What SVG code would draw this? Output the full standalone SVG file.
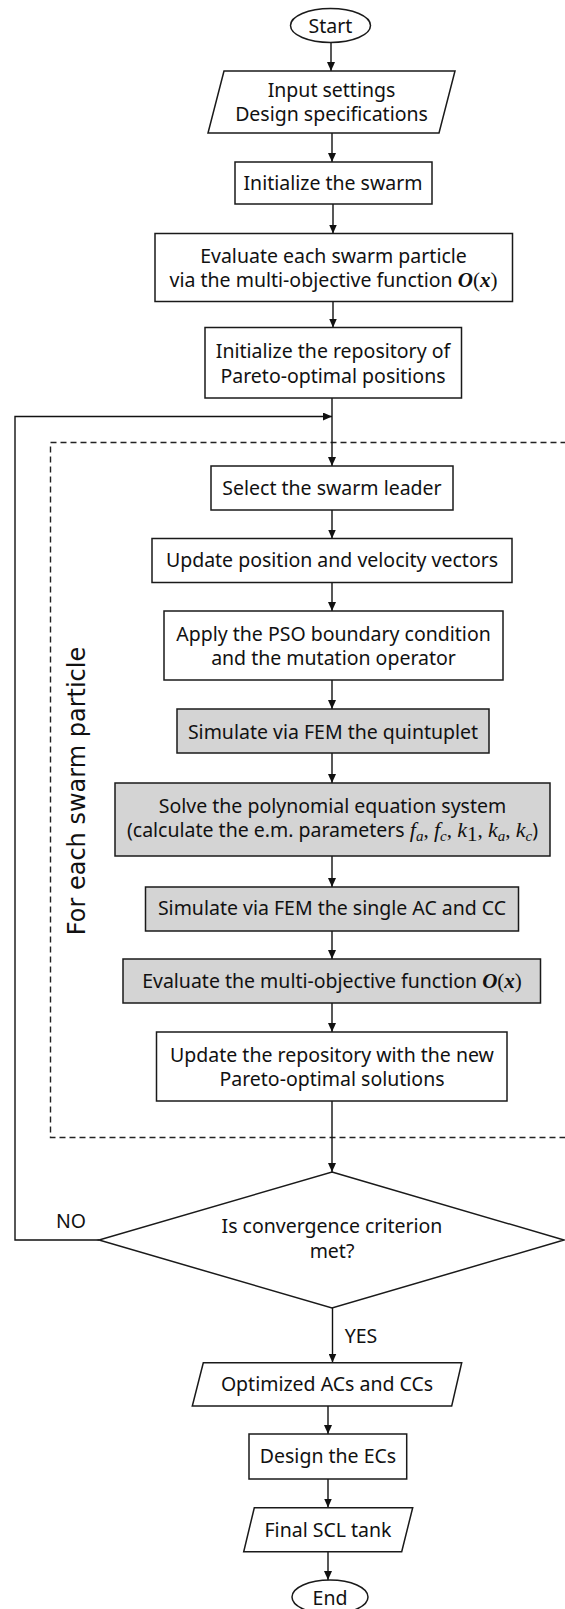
<svg xmlns="http://www.w3.org/2000/svg" width="565" height="1609" viewBox="0 0 565 1609">
<defs>
<style>
.box{fill:#fff;stroke:#1a1a1a;stroke-width:1.5}
.gray{fill:#d4d4d4;stroke:#1a1a1a;stroke-width:1.5}
.t{font-family:"Noto Sans","DejaVu Sans",sans-serif;font-size:19.5px;fill:#111;text-anchor:middle}
.m{font-family:"Liberation Serif",serif;font-style:italic;font-size:22px}
.mb{font-family:"Liberation Serif",serif;font-style:italic;font-weight:bold;font-size:21px}
.p{font-family:"Liberation Serif",serif;font-size:21px}
.s{font-family:"Liberation Serif",serif;font-style:italic;font-size:15px}
.c{fill:none;stroke:#111;stroke-width:1.4}
.lbl{font-family:"DejaVu Sans",sans-serif;font-size:24px;fill:#111;text-anchor:middle}
</style>
<marker id="ah" markerUnits="userSpaceOnUse" markerWidth="9" markerHeight="8" refX="9" refY="4" orient="auto">
<path d="M0,0 L9,4 L0,8 z" fill="#111"/>
</marker>
</defs>
<rect width="565" height="1609" fill="#fff"/>

<g id="loop-region">
<rect x="50.5" y="442.5" width="530" height="695" fill="none" stroke="#222" stroke-width="1.4" stroke-dasharray="6,4"/>
<text class="lbl" transform="translate(85,791) rotate(-90)">For each swarm particle</text>
</g>

<g id="connectors">
<line class="c" x1="331" y1="42.5" x2="331" y2="71" marker-end="url(#ah)"/>
<line class="c" x1="332" y1="133" x2="332" y2="162" marker-end="url(#ah)"/>
<line class="c" x1="333" y1="204" x2="333" y2="233.5" marker-end="url(#ah)"/>
<line class="c" x1="333" y1="301.5" x2="333" y2="327.5" marker-end="url(#ah)"/>
<line class="c" x1="332" y1="398" x2="332" y2="466" marker-end="url(#ah)"/>
<polyline class="c" points="99,1240 15,1240 15,416.5 332,416.5" marker-end="url(#ah)"/>
<line class="c" x1="332" y1="510" x2="332" y2="538.5" marker-end="url(#ah)"/>
<line class="c" x1="332" y1="582.5" x2="332" y2="611" marker-end="url(#ah)"/>
<line class="c" x1="332" y1="680" x2="332" y2="709" marker-end="url(#ah)"/>
<line class="c" x1="332" y1="753" x2="332" y2="783" marker-end="url(#ah)"/>
<line class="c" x1="332" y1="856" x2="332" y2="887" marker-end="url(#ah)"/>
<line class="c" x1="332" y1="931" x2="332" y2="959" marker-end="url(#ah)"/>
<line class="c" x1="332" y1="1003" x2="332" y2="1032" marker-end="url(#ah)"/>
<line class="c" x1="332" y1="1101" x2="332" y2="1172" marker-end="url(#ah)"/>
<line class="c" x1="332.5" y1="1308" x2="332.5" y2="1362.5" marker-end="url(#ah)"/>
<line class="c" x1="328" y1="1406" x2="328" y2="1434" marker-end="url(#ah)"/>
<line class="c" x1="328" y1="1479" x2="328" y2="1507.5" marker-end="url(#ah)"/>
<line class="c" x1="328" y1="1551.5" x2="328" y2="1580" marker-end="url(#ah)"/>
<text class="t" x="71" y="1228">NO</text>
<text class="t" x="361" y="1343">YES</text>
</g>

<g id="start">
<ellipse class="box" cx="330.5" cy="25.5" rx="40" ry="17"/>
<text class="t" x="330.5" y="32.5">Start</text>
</g>

<g id="input">
<polygon class="box" points="224,71 455,71 439,133 208,133"/>
<text class="t" x="331.5" y="96.5">Input settings</text>
<text class="t" x="331.5" y="120.5">Design specifications</text>
</g>

<g id="init-swarm">
<rect class="box" x="235" y="162" width="197" height="42"/>
<text class="t" x="333" y="190">Initialize the swarm</text>
</g>

<g id="evaluate-each">
<rect class="box" x="155" y="233.5" width="357.5" height="68"/>
<text class="t" x="333.5" y="262.5">Evaluate each swarm particle</text>
<text class="t" x="333.5" y="286.5">via the multi-objective function <tspan class="mb">O</tspan><tspan class="p">(</tspan><tspan class="mb">x</tspan><tspan class="p">)</tspan></text>
</g>

<g id="init-repo">
<rect class="box" x="205" y="327.5" width="256.5" height="70.5"/>
<text class="t" x="333" y="358.3">Initialize the repository of</text>
<text class="t" x="333" y="383.3">Pareto-optimal positions</text>
</g>

<g id="select-leader">
<rect class="box" x="211" y="466" width="242" height="44"/>
<text class="t" x="332" y="495">Select the swarm leader</text>
</g>

<g id="update-pos">
<rect class="box" x="152" y="538.5" width="360" height="44"/>
<text class="t" x="332" y="566.7">Update position and velocity vectors</text>
</g>

<g id="apply-pso">
<rect class="box" x="164" y="611" width="339" height="69"/>
<text class="t" x="333.5" y="640.7">Apply the PSO boundary condition</text>
<text class="t" x="333.5" y="665">and the mutation operator</text>
</g>

<g id="sim-quint">
<rect class="gray" x="177" y="709" width="312" height="44"/>
<text class="t" x="333" y="739">Simulate via FEM the quintuplet</text>
</g>

<g id="solve-poly">
<rect class="gray" x="115" y="783" width="435" height="73"/>
<text class="t" x="332.5" y="812.7">Solve the polynomial equation system</text>
<text class="t" x="332.5" y="836.7">(calculate the e.m. parameters <tspan class="m">f</tspan><tspan class="s" dy="4">a</tspan><tspan class="p" dy="-4">, </tspan><tspan class="m">f</tspan><tspan class="s" dy="4">c</tspan><tspan class="p" dy="-4">, </tspan><tspan class="m">k</tspan><tspan class="p" font-size="15" dy="4">1</tspan><tspan class="p" dy="-4">, </tspan><tspan class="m">k</tspan><tspan class="s" dy="4">a</tspan><tspan class="p" dy="-4">, </tspan><tspan class="m">k</tspan><tspan class="s" dy="4">c</tspan><tspan dy="-4">)</tspan></text>
</g>

<g id="sim-single">
<rect class="gray" x="145.5" y="887" width="373" height="44"/>
<text class="t" x="332" y="915">Simulate via FEM the single AC and CC</text>
</g>

<g id="eval-multi">
<rect class="gray" x="123" y="959" width="417.5" height="44"/>
<text class="t" x="332" y="988.3">Evaluate the multi-objective function <tspan class="mb">O</tspan><tspan class="p">(</tspan><tspan class="mb">x</tspan><tspan class="p">)</tspan></text>
</g>

<g id="update-repo">
<rect class="box" x="156.5" y="1032" width="350.5" height="69"/>
<text class="t" x="332" y="1061.7">Update the repository with the new</text>
<text class="t" x="332" y="1086">Pareto-optimal solutions</text>
</g>

<g id="convergence">
<polygon class="box" points="332,1172 564,1240 332,1308 99,1240"/>
<text class="t" x="332" y="1233.3">Is convergence criterion</text>
<text class="t" x="332" y="1258.3">met?</text>
</g>

<g id="optimized">
<polygon class="box" points="203.3,1362.7 461.7,1362.7 451.7,1406 192.3,1406"/>
<text class="t" x="327" y="1391">Optimized ACs and CCs</text>
</g>

<g id="design-ecs">
<rect class="box" x="249" y="1434" width="157.7" height="45"/>
<text class="t" x="328" y="1462.7">Design the ECs</text>
</g>

<g id="final-tank">
<polygon class="box" points="254.3,1507.7 412.7,1507.7 401.7,1551.7 243.7,1551.7"/>
<text class="t" x="328" y="1536.7">Final SCL tank</text>
</g>

<g id="end">
<ellipse class="box" cx="330" cy="1597" rx="38" ry="17"/>
<text class="t" x="330" y="1605">End</text>
</g>
</svg>
